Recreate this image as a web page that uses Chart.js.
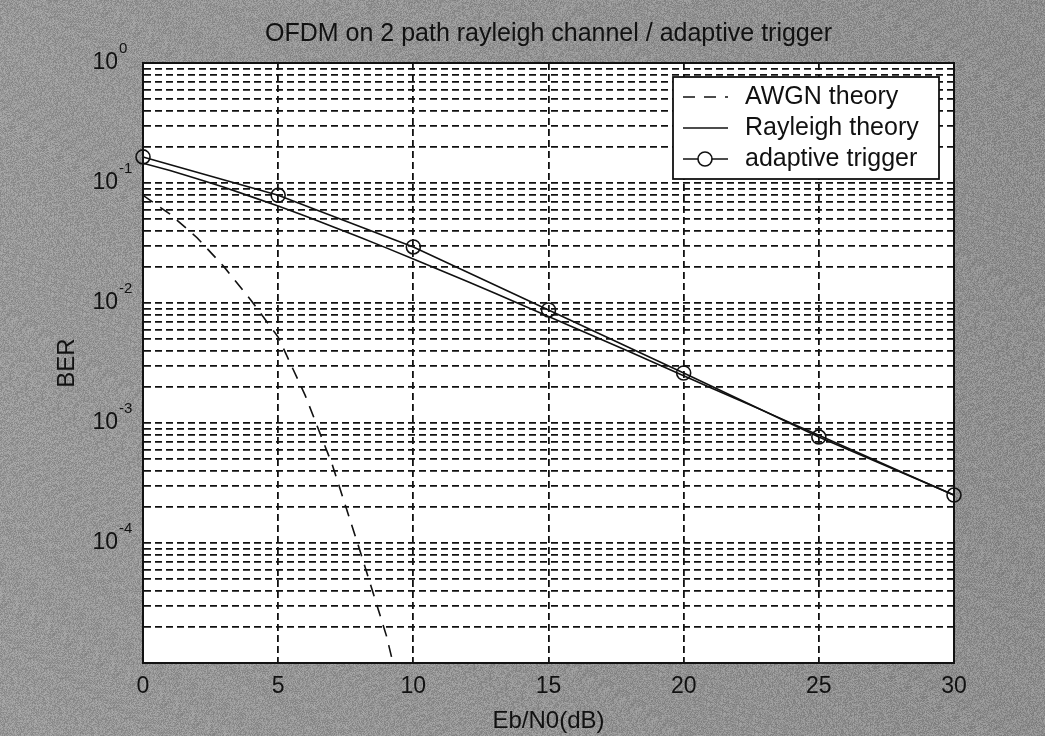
<!DOCTYPE html>
<html>
<head>
<meta charset="utf-8">
<script src="https://cdn.jsdelivr.net/npm/chart.js@4.4.1/dist/chart.umd.min.js"></script>
<style>
  html, body { margin: 0; padding: 0; background: #949494; }
  #wrap { width: 1045px; height: 736px; }
</style>
</head>
<body>
<div id="wrap"><canvas id="berChart" width="1045" height="736"></canvas></div>
<script>
// Values (BER vs Eb/N0 in dB)
const awgnEbN0 = [0, 1, 2, 3, 4, 5, 6, 7, 8, 9, 10];
const awgnBer = [0.079, 0.055, 0.035, 0.020, 0.0105, 0.0052, 0.0017, 0.00045, 0.00009, 0.000017, 0.000002];

const rayleighEbN0 = [0, 1, 2, 3, 4, 5, 6, 7, 8, 9, 10, 11, 12, 13, 14, 15, 16, 17, 18, 19, 20,
  21, 22, 23, 24, 25, 26, 27, 28, 29, 30];
const rayleighBer = [0.146, 0.127, 0.1085, 0.092, 0.077, 0.0642, 0.053, 0.0435, 0.0355, 0.0288, 0.0233,
  0.01875, 0.0151, 0.0121, 0.00967, 0.00772, 0.00617, 0.00492, 0.00392, 0.00312, 0.00248,
  0.00197, 0.00157, 0.00125, 0.000993, 0.000789, 0.000627, 0.000498, 0.000396, 0.000315, 0.00025];

const triggerEbN0 = [0, 5, 10, 15, 20, 25, 30];
const triggerBer = [0.165, 0.079, 0.0293, 0.00875, 0.00261, 0.000764, 0.000251];

const seriesLabels = ['AWGN theory', 'Rayleigh theory', 'adaptive trigger'];
const decadeExponents = [0, -1, -2, -3, -4];   // y labels shown as 10^n
const xMin = 0, xMax = 30, xStep = 5;
const yMin = 1e-5, yMax = 1;

const FONT = '"Liberation Sans", Arial, sans-serif';
const INK = '#111';

const toPoints = (xs, ys) => xs.map((x, i) => ({ x, y: ys[i] }));

// grainy gray texture like the scanned page (fixed pseudo-noise, decoration only)
function makeGrain(w, h) {
  const c = document.createElement('canvas');
  c.width = w; c.height = h;
  const g = c.getContext('2d');
  const img = g.createImageData(w, h);
  let seed = 12345;
  for (let i = 0; i < w * h; i++) {
    seed = (seed * 1103515245 + 12345) & 0x7fffffff;
    const shade = 132 + ((seed >> 8) % 40) - Math.round((i % w) / w * 10);
    img.data[i * 4] = shade;
    img.data[i * 4 + 1] = shade;
    img.data[i * 4 + 2] = shade;
    img.data[i * 4 + 3] = 255;
  }
  g.putImageData(img, 0, 0);
  return c;
}
const grain = makeGrain(1045, 736);

// gray scan background + white axes, box, superscript y labels, legend
const matlabLook = {
  id: 'matlabLook',
  beforeDraw(chart) {
    const { ctx, chartArea: a } = chart;
    ctx.save();
    ctx.drawImage(grain, 0, 0);
    ctx.fillStyle = '#ffffff';
    ctx.fillRect(a.left, a.top, a.right - a.left, a.bottom - a.top);
    ctx.restore();
  },
  afterDraw(chart) {
    const { ctx, chartArea: a } = chart;
    const ys = chart.scales.y;
    ctx.save();

    // axes box
    ctx.strokeStyle = INK;
    ctx.lineWidth = 2;
    ctx.setLineDash([]);
    ctx.strokeRect(a.left, a.top, a.right - a.left, a.bottom - a.top);

    // y tick labels 10^n
    ctx.fillStyle = INK;
    ctx.textBaseline = 'middle';
    const baseX = a.left - 25;
    decadeExponents.forEach(e => {
      const py = ys.getPixelForValue(Math.pow(10, e));
      ctx.font = '23px ' + FONT;
      ctx.textAlign = 'right';
      ctx.fillText('10', baseX, py);
      ctx.font = '15px ' + FONT;
      ctx.textAlign = 'left';
      ctx.fillText(e === 0 ? '0' : '-' + Math.abs(e), baseX + 1, py - 14);
    });

    // legend
    const lw = 266, lh = 102;
    const lx = a.right - 15 - lw, ly = a.top + 14;
    ctx.fillStyle = '#ffffff';
    ctx.fillRect(lx, ly, lw, lh);
    ctx.strokeStyle = INK;
    ctx.lineWidth = 1.8;
    ctx.strokeRect(lx, ly, lw, lh);
    chart.data.datasets.forEach((ds, i) => {
      const ry = ly + 20 + i * 31;
      ctx.strokeStyle = INK;
      ctx.lineWidth = 1.6;
      ctx.setLineDash(ds.borderDash || []);
      ctx.beginPath();
      ctx.moveTo(lx + 10, ry);
      ctx.lineTo(lx + 55, ry);
      ctx.stroke();
      ctx.setLineDash([]);
      if (ds.pointRadius > 0) {
        ctx.fillStyle = '#ffffff';
        ctx.beginPath();
        ctx.arc(lx + 32, ry, ds.pointRadius, 0, Math.PI * 2);
        ctx.fill();
        ctx.stroke();
      }
      ctx.fillStyle = INK;
      ctx.font = '25px ' + FONT;
      ctx.textAlign = 'left';
      ctx.textBaseline = 'middle';
      ctx.fillText(ds.label, lx + 72, ry);
    });
    ctx.restore();
  }
};

const gridStyle = { color: INK, lineWidth: 1.8, drawTicks: false };
const borderStyle = { display: true, color: INK, width: 2, dash: [7, 4] };

new Chart(document.getElementById('berChart'), {
  type: 'line',
  data: {
    datasets: [
      {
        label: seriesLabels[0],
        data: toPoints(awgnEbN0, awgnBer),
        borderColor: INK,
        borderWidth: 1.6,
        borderDash: [12, 9],
        pointRadius: 0,
        tension: 0
      },
      {
        label: seriesLabels[1],
        data: toPoints(rayleighEbN0, rayleighBer),
        borderColor: INK,
        borderWidth: 1.6,
        pointRadius: 0,
        tension: 0
      },
      {
        label: seriesLabels[2],
        data: toPoints(triggerEbN0, triggerBer),
        borderColor: INK,
        borderWidth: 1.6,
        pointRadius: 7,
        pointStyle: 'circle',
        pointBorderWidth: 1.6,
        pointBackgroundColor: 'rgba(255,255,255,0)',
        pointBorderColor: INK,
        tension: 0,
        clip: 10
      }
    ]
  },
  options: {
    responsive: false,
    animation: false,
    devicePixelRatio: 1,
    layout: { padding: { left: 0, right: 91, top: 0, bottom: 0 } },
    plugins: {
      legend: { display: false },
      tooltip: { enabled: false },
      title: {
        display: true,
        fullSize: false,
        text: 'OFDM on 2 path rayleigh channel / adaptive trigger',
        color: INK,
        font: { family: FONT, size: 25, weight: 'normal' },
        padding: { top: 19, bottom: 14 }
      }
    },
    scales: {
      x: {
        type: 'linear',
        min: xMin,
        max: xMax,
        ticks: { stepSize: xStep, color: INK, padding: 10, font: { family: FONT, size: 23 } },
        grid: gridStyle,
        border: borderStyle,
        title: {
          display: true,
          text: 'Eb/N0(dB)',
          color: INK,
          font: { family: FONT, size: 24 },
          padding: { top: 0, bottom: 0 }
        },
        afterFit(s) { s.height = 73; }
      },
      y: {
        type: 'logarithmic',
        min: yMin,
        max: yMax,
        afterBuildTicks(s) {
          const ticks = [];
          for (let e = -5; e < 0; e++) {
            for (let m = 1; m <= 9; m++) ticks.push({ value: m * Math.pow(10, e) });
          }
          ticks.push({ value: 1 });
          s.ticks = ticks;
        },
        ticks: { autoSkip: false, callback: () => '', font: { size: 8 } },
        grid: gridStyle,
        border: borderStyle,
        title: {
          display: true,
          text: 'BER',
          color: INK,
          font: { family: FONT, size: 24 },
          padding: { top: 53, bottom: 0 }
        },
        afterFit(s) { s.width = 143; }
      }
    }
  },
  plugins: [matlabLook]
});
</script>
</body>
</html>
